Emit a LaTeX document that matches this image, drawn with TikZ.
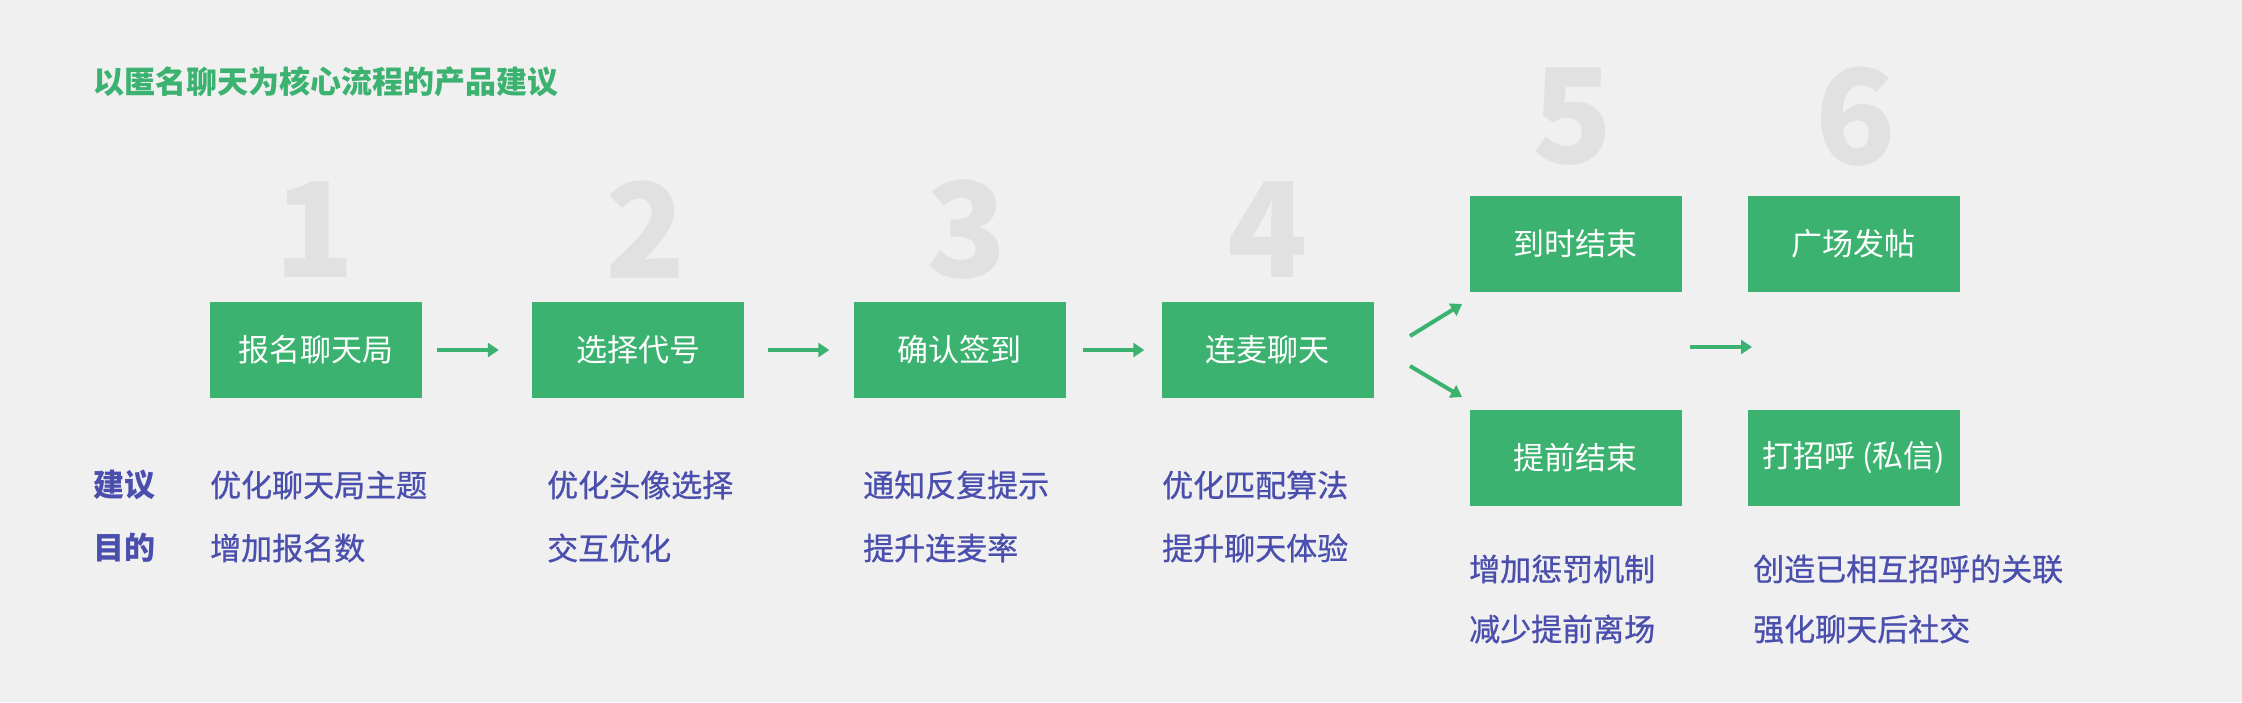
\documentclass[tikz,border=0pt]{standalone}
\usepackage{fontspec}
\usetikzlibrary{arrows.meta}
\newfontfamily\cjk{Noto Sans CJK SC}
\newfontfamily\cjkmed{Noto Sans CJK SC}[FakeBold=0.8]
\definecolor{bgc}{HTML}{F0F0F0}
\definecolor{grn}{HTML}{3BB26F}
\definecolor{numgray}{HTML}{E1E1E1}
\definecolor{blu}{HTML}{4A4FAD}
\tikzset{
  stepbox/.style={fill=grn, draw=none, minimum width=212pt, minimum height=96pt, inner sep=0pt,
    text=white, font=\cjk\fontsize{31}{31}\selectfont},
  bignum/.style={text=numgray, font=\cjk\bfseries\fontsize{132}{132}\selectfont, inner sep=0pt},
  note/.style={anchor=west, inner sep=0pt, text=blu, font=\cjkmed\fontsize{31}{31}\selectfont},
  arr/.style={draw=grn, line width=4pt, -{Triangle[length=11pt,width=14pt]}},
}
\begin{document}
\begin{tikzpicture}[x=1pt,y=-1pt]
\fill[bgc] (0,0) rectangle (2242,702);
\useasboundingbox (0,0) rectangle (2242,702);

\node[anchor=west, inner sep=0pt, text=grn, font=\cjk\bfseries\fontsize{31}{31}\selectfont] (title) at (93,82) {以匿名聊天为核心流程的产品建议};

\node[bignum] (n1) at (315,230) {1};
\node[bignum] (n2) at (646,230) {2};
\node[bignum] (n3) at (967,230) {3};
\node[bignum] (n4) at (1268,230) {4};
\node[bignum] (n5) at (1573,117) {5};
\node[bignum] (n6) at (1856,117) {6};

\node[stepbox] (b1) at (316,350) {报名聊天局};
\node[stepbox] (b2) at (638,350) {选择代号};
\node[stepbox] (b3) at (959.5,350) {确认签到};
\node[stepbox] (b4) at (1267.5,350) {连麦聊天};
\node[stepbox] (b5a) at (1575.5,244) {到时结束};
\node[stepbox] (b5b) at (1575.5,457.5) {提前结束};
\node[stepbox] (b6a) at (1853.5,244) {广场发帖};
\node[stepbox] (b6b) at (1853.5,457.5) {打招呼 (私信)};

\draw[arr, shorten <=15pt, shorten >=33pt] (b1) -- (b2);
\draw[arr, shorten <=24pt, shorten >=24pt] (b2) -- (b3);
\draw[arr, shorten <=17pt, shorten >=17pt] (b3) -- (b4);

\coordinate (u1) at (1410,336);
\coordinate (u2) at (1462,304);
\coordinate (l1) at (1410,366);
\coordinate (l2) at (1462,397);
\coordinate (m1) at (1690,347);
\coordinate (m2) at (1752,347);
\draw[arr] (u1) -- (u2);
\draw[arr] (l1) -- (l2);
\draw[arr] (m1) -- (m2);

\node[note, font=\cjk\bfseries\fontsize{31}{31}\selectfont] (k1) at (93,485) {建议};
\node[note, font=\cjk\bfseries\fontsize{31}{31}\selectfont] (k2) at (93,548) {目的};

\node[note] (t1a) at (210,485) {优化聊天局主题};
\node[note] (t1b) at (210,548) {增加报名数};
\node[note] (t2a) at (547,485) {优化头像选择};
\node[note] (t2b) at (547,548) {交互优化};
\node[note] (t3a) at (863,485) {通知反复提示};
\node[note] (t3b) at (863,548) {提升连麦率};
\node[note] (t4a) at (1162,485) {优化匹配算法};
\node[note] (t4b) at (1162,548) {提升聊天体验};
\node[note] (t5a) at (1469,569) {增加惩罚机制};
\node[note] (t5b) at (1469,629) {减少提前离场};
\node[note] (t6a) at (1753,569) {创造已相互招呼的关联};
\node[note] (t6b) at (1753,629) {强化聊天后社交};
\end{tikzpicture}
\end{document}
